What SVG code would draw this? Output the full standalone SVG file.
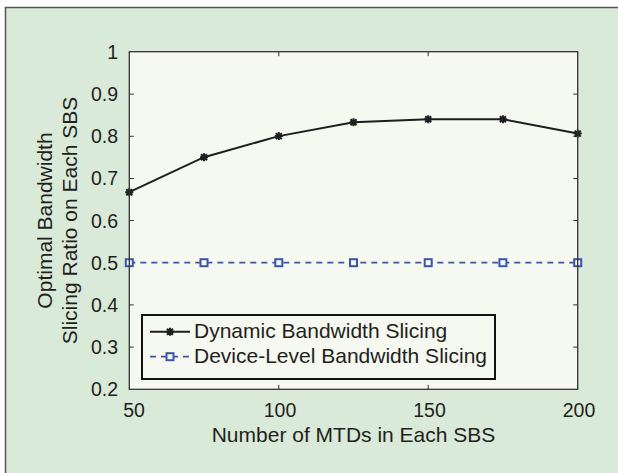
<svg xmlns="http://www.w3.org/2000/svg" width="618" height="473" viewBox="0 0 618 473">
<defs>
<style>
text{font-family:"Liberation Sans",Arial,sans-serif;fill:#231f20}
.tk{font-size:19.5px}
.lb{font-size:21px}
.ax{fill:none;stroke:#333;stroke-width:1.3}
.tick{stroke:#333;stroke-width:1}
.dyn{fill:none;stroke:#1e1e1e;stroke-width:2}
.dev{fill:none;stroke:#3a55b0;stroke-width:1.8;stroke-dasharray:6 5}
.sq{fill:#f6f9f0;stroke:#3a55b0;stroke-width:2}
.star{stroke:#1e1e1e;stroke-width:2;fill:none}
</style>
<g id="mstar"><path class="star" d="M-4,0H4M0,-4V4M-3,-3L3,3M-3,3L3,-3"/></g>
<rect id="msq" class="sq" x="-3.5" y="-3.5" width="7" height="7"/>
</defs>
<rect x="0" y="0" width="618" height="473" fill="#fff"/>
<rect x="5.5" y="7.5" width="640" height="500" fill="#d9ead8" stroke="#555" stroke-width="1.5"/>
<g id="plot-area">
<rect x="129.3" y="51.7" width="448.4" height="337.6" fill="#f6f9f0"/>
</g>
<g id="ticks">
<path class="tick" d="M129.3,94.1h4.5M129.3,136.3h4.5M129.3,178.5h4.5M129.3,220.5h4.5M129.3,262.7h4.5M129.3,304.9h4.5M129.3,347.1h4.5
M577.7,94.1h-4.5M577.7,136.3h-4.5M577.7,178.5h-4.5M577.7,220.5h-4.5M577.7,262.7h-4.5M577.7,304.9h-4.5M577.7,347.1h-4.5
M278.8,51.7v4.5M428.2,51.7v4.5M278.8,389.3v-4.5M428.2,389.3v-4.5"/>
</g>
<g id="y-tick-labels" class="tk" text-anchor="end">
<text x="118" y="58.7">1</text>
<text x="118" y="101">0.9</text>
<text x="118" y="143.2">0.8</text>
<text x="118" y="185.4">0.7</text>
<text x="118" y="227.5">0.6</text>
<text x="118" y="269.7">0.5</text>
<text x="118" y="311.9">0.4</text>
<text x="118" y="354.1">0.3</text>
<text x="118" y="396.2">0.2</text>
</g>
<g id="x-tick-labels" class="tk" text-anchor="middle">
<text x="134" y="416.5">50</text>
<text x="280" y="416.5">100</text>
<text x="429.5" y="416.5">150</text>
<text x="579" y="416.5">200</text>
</g>
<g id="axis-labels" class="lb" text-anchor="middle">
<text x="353.5" y="441.7">Number of MTDs in Each SBS</text>
<text transform="translate(51.7,220.5) rotate(-90)">Optimal Bandwidth</text>
<text transform="translate(76.7,220.5) rotate(-90)">Slicing Ratio on Each SBS</text>
</g>
<g id="connectors">
<polyline id="series-device" class="dev" points="129.3,262.7 577.7,262.7"/>
<polyline id="series-dynamic" class="dyn" points="129.3,192.2 204,157.2 278.8,136.1 353.5,122.2 428.2,119.2 502.9,119.2 577.7,133.6"/>
</g>
<g id="markers-device">
<use href="#msq" x="129.3" y="262.7"/><use href="#msq" x="204" y="262.7"/><use href="#msq" x="278.8" y="262.7"/><use href="#msq" x="353.5" y="262.7"/><use href="#msq" x="428.2" y="262.7"/><use href="#msq" x="502.9" y="262.7"/><use href="#msq" x="577.7" y="262.7"/>
</g>
<g id="markers-dynamic">
<use href="#mstar" x="129.3" y="192.2"/><use href="#mstar" x="204" y="157.2"/><use href="#mstar" x="278.8" y="136.1"/><use href="#mstar" x="353.5" y="122.2"/><use href="#mstar" x="428.2" y="119.2"/><use href="#mstar" x="502.9" y="119.2"/><use href="#mstar" x="577.7" y="133.6"/>
</g>
<g id="axes-box">
<rect class="ax" x="129.3" y="51.7" width="448.4" height="337.6"/>
</g>
<g id="legend">
<rect x="142" y="315" width="353" height="64" fill="#f6f9f0" stroke="#111" stroke-width="2"/>
<path class="dyn" d="M150,331.7H190"/>
<use href="#mstar" x="170" y="331.7"/>
<path class="dev" d="M150,356.7H190" stroke-dasharray="6 4.5"/>
<use href="#msq" x="170" y="356.7"/>
<text class="lb" x="194" y="338">Dynamic Bandwidth Slicing</text>
<text class="lb" x="194" y="363.3">Device-Level Bandwidth Slicing</text>
</g>
</svg>
